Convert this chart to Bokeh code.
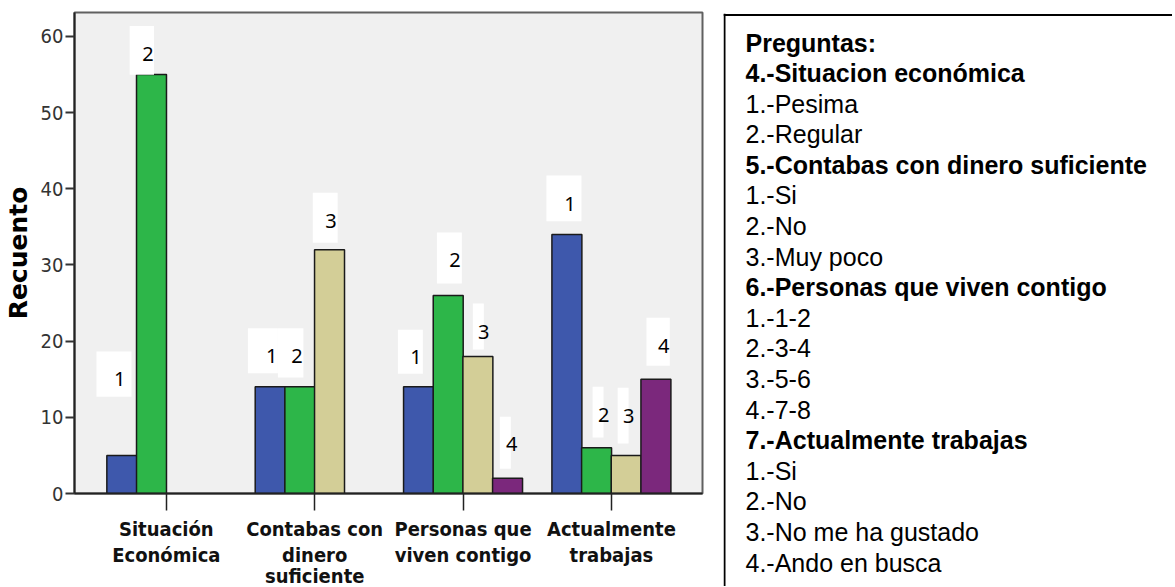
from bokeh.plotting import figure
from bokeh.models import Range1d, FixedTicker, Span, ColumnDataSource
from bokeh.transform import dodge
from bokeh.layouts import row, column
from bokeh.core.properties import value
from bokeh.embed import file_html
from bokeh.resources import INLINE

# ---------------- data ----------------
categories = ["Situación\nEconómica", "Contabas con\ndinero\nsuficiente",
              "Personas que\nviven contigo", "Actualmente\ntrabajas"]
serie_1 = [5, 14, 14, 34]
serie_2 = [55, 14, 26, 6]
serie_3 = [None, 32, 18, 5]
serie_4 = [None, None, 2, 15]
y_ticks = [0, 10, 20, 30, 40, 50, 60]

tag_text = ["1", "2", "1", "2", "3", "1", "2", "3", "4", "1", "2", "3", "4"]

legend_lines = ["Preguntas:", "4.-Situacion económica", "1.-Pesima", "2.-Regular",
                "5.-Contabas con dinero suficiente", "1.-Si", "2.-No", "3.-Muy poco",
                "6.-Personas que viven contigo", "1.-1-2", "2.-3-4", "3.-5-6", "4.-7-8",
                "7.-Actualmente trabajas", "1.-Si", "2.-No", "3.-No me ha gustado",
                "4.-Ando en busca"]
legend_bold = [1, 1, 0, 0, 1, 0, 0, 0, 1, 0, 0, 0, 0, 1, 0, 0, 0, 0]

# ---------------- layout / style ----------------
colors = ["#3E58AC", "#2DB649", "#D3CE97", "#7B287C"]
slot_offsets = [-0.3, -0.1, 0.1, 0.3]
bar_w = 0.202
NARROW = "DejaVu Sans Condensed"

# tag boxes (x center, y center, w, h) and text positions, in data units
tag_box_x = [-0.353, -0.165, 0.651, 0.838, 1.071, 1.645, 1.908, 2.103, 2.285, 2.680, 2.910, 3.079, 3.315]
tag_box_y = [15.68, 58.17, 18.73, 18.46, 36.19, 18.62, 30.91, 21.91, 6.66, 38.74, 10.69, 10.23, 19.93]
tag_box_w = [0.236, 0.164, 0.202, 0.172, 0.168, 0.168, 0.168, 0.074, 0.074, 0.236, 0.074, 0.074, 0.157]
tag_box_h = [5.95, 6.39, 5.91, 6.44, 6.57, 5.78, 6.70, 6.04, 6.83, 6.01, 6.66, 7.32, 6.31]
tag_txt_x = [-0.314, -0.123, 0.711, 0.880, 1.110, 1.682, 1.945, 2.140, 2.328, 2.721, 2.948, 3.116, 3.352]
tag_txt_y = [15.03, 57.74, 18.09, 18.09, 35.83, 17.96, 30.71, 21.25, 6.53, 38.03, 10.34, 10.21, 19.32]

H = 586            # total page height used
TOP = 12           # frame top
FRAME_H = 481      # frame height (frame bottom at 493)
AXIS_AREA = 50     # ticks + first line of the category names
W1 = 715
P_H = TOP + FRAME_H + AXIS_AREA
p = figure(width=W1, height=P_H, output_backend="svg", toolbar_location=None,
           x_range=Range1d(-0.619, 3.614), y_range=Range1d(0, 63.15),
           min_border_left=73, min_border_right=13, min_border_top=TOP,
           min_border_bottom=AXIS_AREA)
p.background_fill_color = "#F0F0F0"
p.border_fill_color = "white"
p.outline_line_color = "#606060"
p.outline_line_width = 2
p.grid.visible = False

for k, vals in enumerate([serie_1, serie_2, serie_3, serie_4]):
    xs = [i for i, v in enumerate(vals) if v is not None]
    tops = [v for v in vals if v is not None]
    src = ColumnDataSource(dict(x=xs, top=tops))
    p.vbar(x=dodge("x", slot_offsets[k]), top="top", width=bar_w, bottom=0, source=src,
           fill_color=colors[k], line_color="#1a1a1a", line_width=1.5)

tags = ColumnDataSource(dict(bx=tag_box_x, by=tag_box_y, bw=tag_box_w, bh=tag_box_h,
                             tx=tag_txt_x, ty=tag_txt_y, t=tag_text))
p.rect(x="bx", y="by", width="bw", height="bh", source=tags, fill_color="white", line_color=None)
p.text(x="tx", y="ty", text="t", source=tags, text_align="center", text_baseline="middle",
       text_font=value("Noto Sans"), text_font_size="20px", text_color="black")

xa = p.xaxis[0]
xa.ticker = FixedTicker(ticks=list(range(len(categories))))
xa.major_label_overrides = {i: c.split("\n")[0] for i, c in enumerate(categories)}
xa.major_label_text_font = NARROW
xa.major_label_text_font_style = "bold"
xa.major_label_text_font_size = "20px"
xa.major_label_text_color = "#111111"
xa.major_label_standoff = 6
xa.major_tick_out = 17
xa.major_tick_in = 0
xa.major_tick_line_width = 1.5
xa.major_tick_line_color = "#222222"
xa.minor_tick_line_color = None
xa.axis_line_width = 2
xa.axis_line_color = "#222222"

ya = p.yaxis[0]
ya.ticker = FixedTicker(ticks=y_ticks)
ya.major_label_text_font = NARROW
ya.major_label_text_font_size = "20px"
ya.major_label_text_color = "#333333"
ya.major_label_standoff = 2
ya.major_tick_out = 9
ya.major_tick_in = 0
ya.major_tick_line_width = 2
ya.major_tick_line_color = "#333333"
ya.minor_tick_line_color = None
ya.axis_line_width = 2
ya.axis_line_color = "#222222"
ya.axis_label = "Recuento"
ya.axis_label_text_font = "DejaVu Sans"
ya.axis_label_text_font_style = "bold"
ya.axis_label_text_font_size = "25px"
ya.axis_label_text_color = "black"
ya.axis_label_standoff = 5

# ---------------- continuation lines of the category names ----------------
LAB_H = H - P_H
p_lab = figure(width=W1, height=LAB_H, output_backend="svg", toolbar_location=None,
               x_range=p.x_range, y_range=Range1d(LAB_H, 0),
               x_axis_location=None, y_axis_location=None,
               min_border_left=73, min_border_right=13, min_border_top=0, min_border_bottom=0)
p_lab.grid.visible = False
p_lab.outline_line_color = None
p_lab.background_fill_color = "white"
p_lab.border_fill_color = "white"
lab_x, lab_line, lab_t = [], [], []
for i, c in enumerate(categories):
    for j, part in enumerate(c.split("\n")[1:]):
        lab_x.append(i)
        lab_line.append(j)
        lab_t.append(part)
FIRST_MID = 554 - P_H      # centre of the second text line, page y 554
LINE_STEP = 21
lab_src = ColumnDataSource(dict(x=lab_x, y=[FIRST_MID + LINE_STEP * j for j in lab_line], t=lab_t))
p_lab.text(x="x", y="y", text="t", source=lab_src, text_align="center", text_baseline="middle",
           text_font=value(NARROW), text_font_style="bold", text_font_size="20px",
           text_color="#111111")

# ---------------- legend panel ----------------
W2 = 457
LEG_TOP = 13
p2 = figure(width=W2, height=H, output_backend="svg", toolbar_location=None,
            x_range=Range1d(0, W2 - 8), y_range=Range1d(H - LEG_TOP, 0),
            x_axis_location=None, y_axis_location=None,
            min_border_left=8, min_border_right=0, min_border_top=LEG_TOP, min_border_bottom=0)
p2.grid.visible = False
p2.outline_line_color = None
p2.background_fill_color = "white"
p2.border_fill_color = "white"
p2.add_layout(Span(location=1, dimension="height", line_color="black", line_width=2))
p2.add_layout(Span(location=1.5, dimension="width", line_color="black", line_width=2))

leg = ColumnDataSource(dict(
    x=[22] * len(legend_lines),
    y=[(42 - LEG_TOP) + 30.59 * k for k in range(len(legend_lines))],
    t=legend_lines,
    s=["bold" if b else "normal" for b in legend_bold]))
p2.text(x="x", y="y", text="t", source=leg, text_font=value("Liberation Sans"),
        text_font_size="25px", text_font_style="s", text_align="left",
        text_baseline="middle", text_color="black")

layout = row(column(p, p_lab), column(p2))
open("out.html", "w").write(file_html(layout, INLINE))
